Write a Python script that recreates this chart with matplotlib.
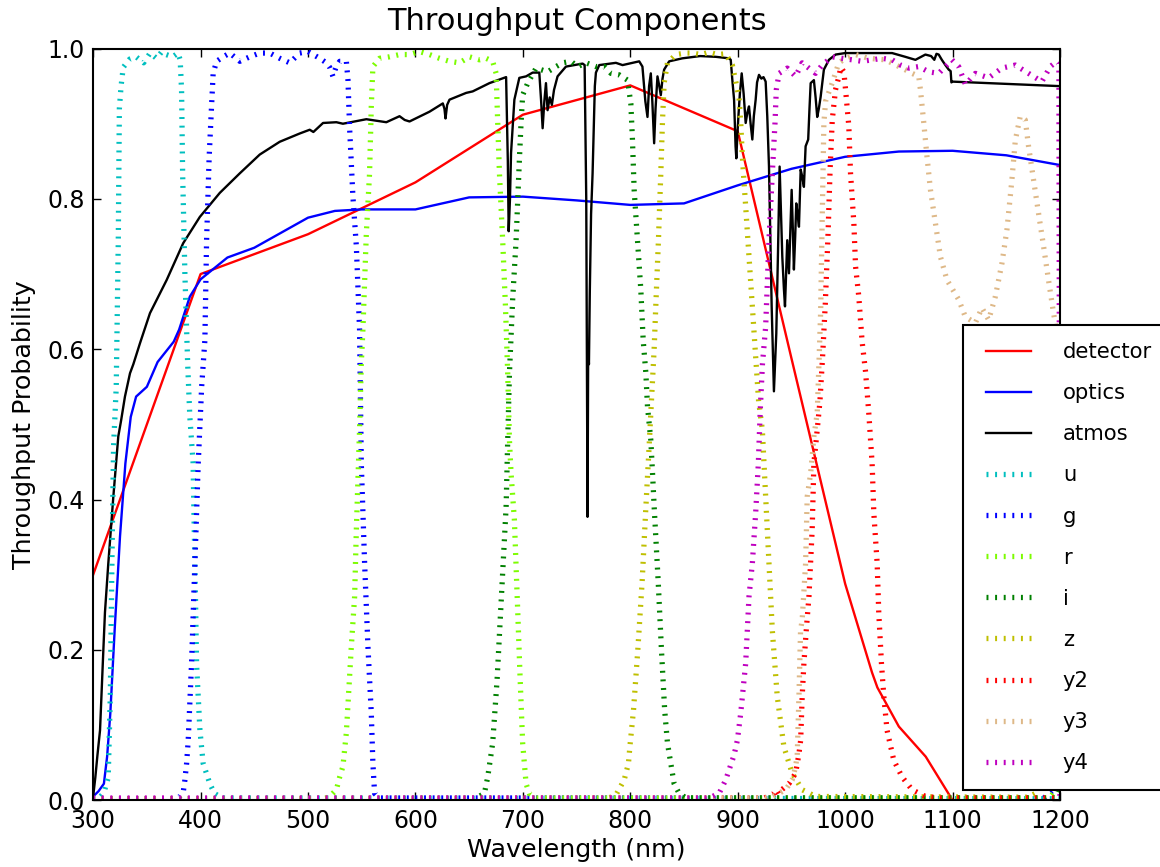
import numpy as np
import matplotlib
matplotlib.use('Agg')
import matplotlib.pyplot as plt

# ---------------- data (wavelength nm, throughput) ----------------
x_ticks = [300, 400, 500, 600, 700, 800, 900, 1000, 1100, 1200]
y_ticks = [0.0, 0.2, 0.4, 0.6, 0.8, 1.0]
y_tick_labels = ["0.0", "0.2", "0.4", "0.6", "0.8", "1.0"]

detector = [(300, 0.30), (400, 0.70), (500, 0.753), (600, 0.822), (700, 0.912),
            (800, 0.951), (900, 0.890), (950, 0.588), (1000, 0.288), (1025, 0.170),
            (1030, 0.150), (1050, 0.098), (1075, 0.058), (1100, 0.0), (1200, 0.0)]

optics = [(300, 0.005), (305, 0.012), (310, 0.022), (313, 0.058), (316, 0.116),
          (320, 0.226), (325, 0.351), (330, 0.448), (335, 0.510), (340, 0.537),
          (350, 0.550), (360, 0.583), (375, 0.610), (380, 0.626), (390, 0.670),
          (400, 0.693), (425, 0.722), (450, 0.735), (475, 0.755), (500, 0.775),
          (525, 0.784), (550, 0.786), (600, 0.786), (650, 0.802), (700, 0.803),
          (750, 0.798), (800, 0.792), (850, 0.794), (900, 0.818), (950, 0.840),
          (1000, 0.856), (1050, 0.863), (1100, 0.864), (1150, 0.858), (1200, 0.845)]

atmos = [(300, 0.005), (302, 0.03), (304, 0.06), (306.4, 0.093), (308, 0.15),
         (309.5, 0.20), (311, 0.25), (314.1, 0.315), (318.8, 0.404), (323.4, 0.484),
         (326, 0.505), (329.6, 0.537), (334.3, 0.568), (337.4, 0.580), (343.6, 0.608),
         (352.9, 0.648), (368.4, 0.692), (383.8, 0.741), (399.3, 0.776), (417.9, 0.808),
         (436.5, 0.834), (455.1, 0.859), (473.7, 0.876), (492.3, 0.887), (501.6, 0.892),
         (505, 0.889), (514, 0.901), (526.4, 0.902), (532.5, 0.900), (554.3, 0.906),
         (572.9, 0.902), (585.2, 0.910), (590, 0.905), (594.5, 0.903), (613.1, 0.916),
         (625.5, 0.927), (627, 0.920), (628, 0.907), (629.5, 0.925), (631.7, 0.932),
         (647.2, 0.941), (653.3, 0.943), (668.9, 0.954), (684.4, 0.962), (686, 0.85),
         (686.8, 0.757), (688, 0.80), (689, 0.861), (692.1, 0.932), (696.7, 0.961),
         (703, 0.963), (709.1, 0.968), (715.3, 0.968), (717, 0.93), (718.4, 0.894),
         (720, 0.93), (721.5, 0.954), (723, 0.918), (725, 0.935), (727, 0.925),
         (729, 0.945), (732.3, 0.963), (740.1, 0.976), (755.6, 0.980), (757.5, 0.978),
         (759, 0.80), (760.2, 0.377), (760.8, 0.60), (761.5, 0.58), (762.3, 0.675),
         (763.5, 0.78), (764.9, 0.834), (767, 0.95), (768, 0.968), (771.1, 0.978),
         (786.6, 0.981), (792.8, 0.978), (802, 0.981), (808.3, 0.983), (811.3, 0.976),
         (814, 0.93), (816, 0.909), (817.5, 0.95), (819.1, 0.967), (820.5, 0.93),
         (822.2, 0.874), (823.5, 0.92), (825.3, 0.963), (827, 0.95), (828.4, 0.938),
         (830, 0.96), (831.5, 0.972), (836.2, 0.983), (848.5, 0.987), (865, 0.990),
         (879.6, 0.989), (891.9, 0.987), (893.5, 0.985), (895, 0.958), (896.6, 0.932),
         (898, 0.87), (898.7, 0.854), (899.5, 0.88), (900.6, 0.909), (902, 0.94),
         (903.7, 0.967), (905.5, 0.94), (907.4, 0.901), (909, 0.915), (910.5, 0.923),
         (912, 0.90), (913.6, 0.879), (915, 0.91), (916.7, 0.932), (918, 0.955),
         (919.8, 0.965), (922, 0.960), (924, 0.962), (926, 0.956), (927.5, 0.91),
         (929.1, 0.843), (930.5, 0.74), (931.6, 0.657), (933.7, 0.544), (935.9, 0.621),
         (937.5, 0.73), (939, 0.843), (940.3, 0.78), (941.5, 0.723), (943, 0.68),
         (944, 0.657), (945, 0.70), (946.1, 0.745), (947.7, 0.701), (949, 0.76),
         (950.2, 0.812), (951.3, 0.76), (952.3, 0.706), (953.5, 0.75), (954.5, 0.794),
         (955.7, 0.78), (957, 0.763), (958.6, 0.839), (960, 0.83), (961.6, 0.816),
         (963.2, 0.870), (965.6, 0.879), (966.8, 0.92), (967.9, 0.954), (970.9, 0.958),
         (972.5, 0.935), (974, 0.909), (975.5, 0.92), (977.2, 0.936), (980.2, 0.972),
         (984.9, 0.985), (991.1, 0.992), (1000, 0.994), (1012.7, 0.994), (1043.7, 0.994),
         (1056, 0.989), (1065.4, 0.985), (1074.7, 0.992), (1080, 0.990), (1083, 0.985),
         (1085, 0.993), (1087.1, 0.992), (1090, 0.985), (1093.3, 0.978), (1096.4, 0.972),
         (1098.2, 0.970), (1098.9, 0.955), (1100, 0.956), (1200, 0.950)]

u_band = [(300, 0.002), (305, 0.002), (310, 0.01), (314, 0.03), (316, 0.14),
          (317.5, 0.32), (319, 0.47), (321.5, 0.55), (323.4, 0.745), (324.4, 0.92),
          (326, 0.95), (328, 0.975), (334, 0.986), (340, 0.989), (347, 0.981),
          (353, 0.994), (359, 0.987), (364, 0.996), (368, 0.992), (374, 0.989),
          (379, 0.994), (381, 0.985), (382.3, 0.945), (383.3, 0.834), (385.4, 0.70),
          (388, 0.58), (390, 0.51), (393, 0.45), (394.7, 0.315), (396.3, 0.18),
          (399.4, 0.093), (402.4, 0.049), (408.6, 0.022), (413, 0.009), (420, 0.003),
          (1200, 0.002)]

g_band = [(300, 0.002), (375, 0.002), (380, 0.004), (383.8, 0.01), (385.4, 0.027),
          (387, 0.049), (388.5, 0.08), (391.6, 0.182), (394.7, 0.315), (397.8, 0.448),
          (401, 0.55), (404, 0.612), (405.6, 0.745), (408, 0.856), (410.2, 0.923),
          (411.7, 0.967), (414.9, 0.983), (421, 0.989), (427.2, 0.994), (436.5, 0.983),
          (445.8, 0.989), (455.1, 0.994), (464.4, 0.994), (473.7, 0.987), (483, 0.981),
          (492.3, 0.994), (500, 0.996), (510.9, 0.987), (517.1, 0.981), (520.2, 0.975),
          (523.2, 0.963), (526, 0.975), (529.5, 0.983), (535.7, 0.983), (537.2, 0.958),
          (538.8, 0.892), (541.8, 0.803), (545, 0.737), (548, 0.626), (549.6, 0.448),
          (552.7, 0.315), (555.8, 0.204), (558.9, 0.116), (560.4, 0.049), (562, 0.009),
          (566, 0.003), (1185, 0.003), (1195, 0.015), (1200, 0.03)]

r_band = [(300, 0.002), (515, 0.002), (520.2, 0.005), (526.4, 0.014), (529.5, 0.031),
          (532.5, 0.045), (535.7, 0.09), (540.3, 0.204), (543.4, 0.271), (545, 0.36),
          (548, 0.493), (549.6, 0.581), (551.1, 0.626), (554.3, 0.754), (557.3, 0.834),
          (558.9, 0.923), (560.4, 0.976), (566.6, 0.987), (575.9, 0.989), (585.2, 0.992),
          (594.5, 0.992), (603.8, 0.996), (613.1, 0.992), (622.4, 0.987), (631.7, 0.983),
          (641, 0.981), (650.3, 0.989), (659.6, 0.985), (665.8, 0.987), (671.9, 0.983),
          (675.1, 0.967), (676.6, 0.901), (678.2, 0.834), (681.2, 0.745), (683.8, 0.657),
          (685.9, 0.568), (687.5, 0.479), (689, 0.435), (692.1, 0.373), (695, 0.26),
          (697.5, 0.16), (699.8, 0.076), (703, 0.022), (706, 0.009), (712, 0.003),
          (1190, 0.003), (1200, 0.02)]

i_band = [(300, 0.002), (655, 0.002), (664.2, 0.009), (667.3, 0.031), (671.9, 0.076),
          (676, 0.16), (680, 0.27), (684.4, 0.39), (685.9, 0.479), (687.5, 0.568),
          (690.5, 0.666), (693.7, 0.745), (696.7, 0.85), (698.3, 0.901), (699.8, 0.938),
          (704.5, 0.954), (712.3, 0.974), (723.1, 0.969), (730.9, 0.976), (737, 0.981),
          (744.8, 0.983), (751, 0.976), (758.8, 0.981), (768, 0.976), (775.8, 0.976),
          (782, 0.967), (789.7, 0.965), (797.4, 0.958), (800.5, 0.927), (802, 0.879),
          (803.6, 0.812), (806.7, 0.745), (809.8, 0.679), (812, 0.612), (814.5, 0.568),
          (816, 0.524), (819.1, 0.479), (820.7, 0.435), (822.2, 0.391), (826, 0.29),
          (829, 0.2), (832, 0.12), (834.6, 0.076), (840.8, 0.022), (845.5, 0.009),
          (852, 0.003), (1195, 0.003), (1200, 0.02)]

z_band = [(300, 0.002), (780, 0.003), (786.6, 0.007), (794.3, 0.027), (798.3, 0.049),
          (799.6, 0.071), (803, 0.12), (807, 0.2), (811, 0.29), (814.5, 0.39),
          (817.5, 0.47), (820, 0.54), (822.2, 0.60), (823.8, 0.66), (826.2, 0.745),
          (828.4, 0.834), (829.9, 0.901), (831.5, 0.954), (834.6, 0.981), (842.4, 0.992),
          (851.7, 0.994), (857.8, 0.994), (865.6, 0.992), (873.3, 0.995), (881.1, 0.992),
          (888.8, 0.993), (895, 0.978), (901.2, 0.935), (902.8, 0.901), (904.3, 0.856),
          (907.4, 0.790), (910.5, 0.723), (913.6, 0.657), (916.7, 0.590), (919.5, 0.53),
          (922.9, 0.493), (926, 0.404), (929.1, 0.315), (932.2, 0.226), (936.8, 0.138),
          (943, 0.071), (950.7, 0.036), (960, 0.014), (972.5, 0.005), (1170, 0.004),
          (1177, 0.009), (1185, 0.022), (1192, 0.03), (1200, 0.04)]

y2_band = [(300, 0.002), (925, 0.003), (933.7, 0.009), (936, 0.014), (938.4, 0.008),
           (941, 0.014), (947.7, 0.022), (953.9, 0.036), (957, 0.062), (958.6, 0.08),
           (960, 0.138), (961.6, 0.182), (964, 0.23), (966.3, 0.271), (969.3, 0.360),
           (970.9, 0.448), (974, 0.493), (976.5, 0.53), (979, 0.59), (981.5, 0.66),
           (984, 0.75), (986, 0.84), (988, 0.905), (991, 0.945), (994, 0.962),
           (996, 0.975), (998.8, 0.969), (1000.4, 0.945), (1003.4, 0.897), (1005, 0.834),
           (1008.1, 0.768), (1009.7, 0.71), (1012.7, 0.67), (1015.8, 0.61), (1019, 0.57),
           (1022, 0.515), (1025.1, 0.448), (1026.7, 0.382), (1029.8, 0.315), (1031.3, 0.249),
           (1033.8, 0.182), (1036, 0.138), (1039, 0.093), (1045.3, 0.053), (1053, 0.031),
           (1062.3, 0.014), (1074.7, 0.005), (1090, 0.003), (1200, 0.003)]

y3_band = [(300, 0.002), (930, 0.003), (935.3, 0.007), (944.6, 0.014), (950.7, 0.027),
           (953.9, 0.045), (955.4, 0.06), (957, 0.138), (958.5, 0.226), (960, 0.24),
           (963.2, 0.315), (964.7, 0.404), (967.9, 0.435), (970.9, 0.484), (974, 0.515),
           (975.6, 0.58), (977.2, 0.65), (978.7, 0.78), (980.2, 0.901), (981.8, 0.93),
           (987.9, 0.954), (994.1, 0.981), (1000.4, 0.987), (1009.7, 0.992), (1022, 0.987),
           (1037.6, 0.985), (1053, 0.974), (1062.3, 0.967), (1068.5, 0.963), (1070.1, 0.945),
           (1073.2, 0.901), (1076.2, 0.856), (1079.4, 0.812), (1084, 0.768), (1088.7, 0.723),
           (1094.8, 0.692), (1099.4, 0.681), (1105.7, 0.666), (1111.9, 0.643), (1121.2, 0.635),
           (1127.3, 0.655), (1133.6, 0.639), (1139.8, 0.670), (1145.9, 0.714), (1150.6, 0.759),
           (1155.2, 0.825), (1158.4, 0.878), (1163, 0.910), (1167.7, 0.905), (1170.7, 0.870),
           (1175.4, 0.825), (1180, 0.781), (1184.7, 0.737), (1189.3, 0.692), (1194, 0.648),
           (1200, 0.60)]

y4_band = [(300, 0.003), (870, 0.003), (876.4, 0.005), (882.6, 0.009), (888.8, 0.027),
           (893.5, 0.047), (896.6, 0.06), (899.7, 0.08), (902.8, 0.116), (907.4, 0.182),
           (910.5, 0.271), (913.6, 0.315), (916.7, 0.382), (919.2, 0.448), (921, 0.52),
           (923, 0.58), (926, 0.63), (929.1, 0.745), (932.2, 0.834), (934.7, 0.901),
           (935.9, 0.945), (938.5, 0.967), (946.1, 0.974), (953.9, 0.963), (960, 0.981),
           (967.9, 0.972), (972.5, 0.967), (978.6, 0.978), (987.9, 0.989), (997.2, 0.987),
           (1006.5, 0.985), (1015.8, 0.983), (1025.1, 0.985), (1034.4, 0.987), (1043.7, 0.985),
           (1051.5, 0.978), (1059.2, 0.974), (1068.5, 0.976), (1077.8, 0.969), (1087.1, 0.967),
           (1099.4, 0.985), (1105.7, 0.976), (1112, 0.952), (1121.2, 0.967), (1133.6, 0.961),
           (1145.9, 0.974), (1158.4, 0.978), (1170.7, 0.967), (1183.1, 0.956), (1190.9, 0.976),
           (1197, 0.983), (1199, 0.98), (1200, 0.0)]

solid_series = [("detector", detector, (1.0, 0.0, 0.0)),
                ("optics", optics, (0.0, 0.0, 1.0)),
                ("atmos", atmos, (0.0, 0.0, 0.0))]
filter_series = [("u", u_band, (0.0, 0.75, 0.75)),
                 ("g", g_band, (0.0, 0.0, 1.0)),
                 ("r", r_band, "lawngreen"),
                 ("i", i_band, (0.0, 0.5, 0.0)),
                 ("z", z_band, (0.75, 0.75, 0.0)),
                 ("y2", y2_band, (1.0, 0.0, 0.0)),
                 ("y3", y3_band, "burlywood"),
                 ("y4", y4_band, (0.75, 0.0, 0.75))]

# ---------------- plotting ----------------
plt.rcParams['font.family'] = ['DejaVu Sans']
plt.rcParams['lines.scale_dashes'] = False

fig = plt.figure(figsize=(11.6, 8.67), dpi=100)
ax = fig.add_axes([0.0803, 0.0770, 0.8335, 0.8670])

for label, data, col in solid_series:
    arr = np.array(data, dtype=float)
    ax.plot(arr[:, 0], arr[:, 1], color=col, lw=1.7, label=label)

for label, data, col in filter_series:
    arr = np.array(data, dtype=float)
    ax.plot(arr[:, 0], arr[:, 1], color=col, lw=3.8, dashes=(1.4, 4.8),
            label=label)

ax.set_xlim(300, 1200)
ax.set_ylim(0, 1)
ax.set_xticks(x_ticks)
ax.set_yticks(y_ticks)
ax.set_yticklabels(y_tick_labels)
ax.tick_params(direction='in', top=True, right=True, length=6, width=1,
               labelsize=17, pad=6)
for s in ax.spines.values():
    s.set_linewidth(1.5)

ax.set_xlabel('Wavelength (nm)', fontsize=18.3, labelpad=4)
ax.set_ylabel('Throughput Probability', fontsize=18.3, labelpad=8)
ax.set_title('Throughput Components', fontsize=22, pad=13)

leg = ax.legend(loc='upper left', bbox_to_anchor=(0.8997, 0.632), borderaxespad=0,
                fontsize=15.2, numpoints=2, handlelength=2.73, handletextpad=1.2,
                labelspacing=1.0, borderpad=0.8, fancybox=False, framealpha=1,
                edgecolor='k')
leg.get_frame().set_linewidth(1.5)

fig.savefig('out.png', dpi=100)
